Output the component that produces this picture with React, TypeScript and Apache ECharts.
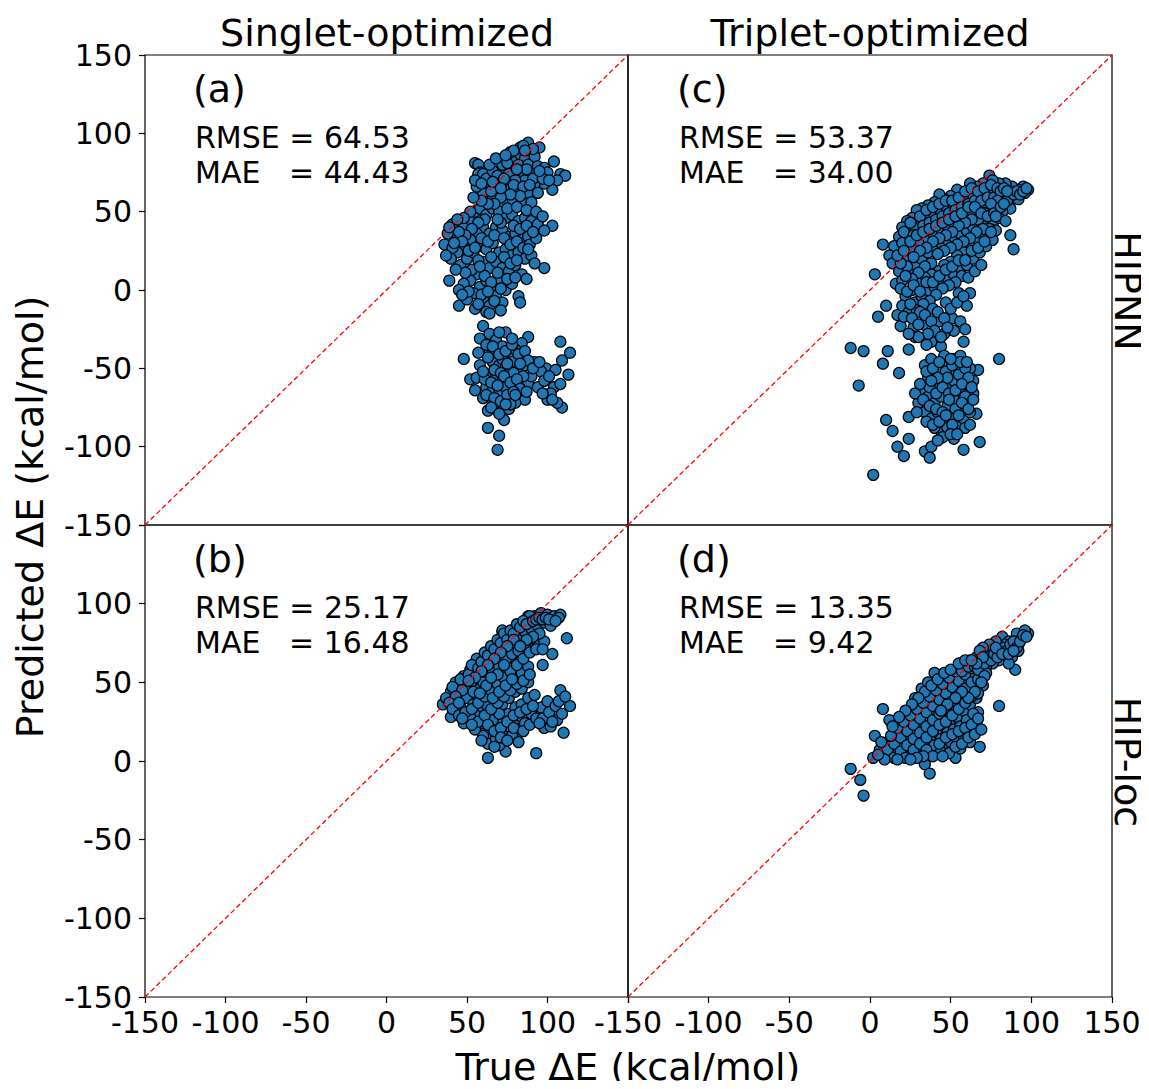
import React, { useEffect, useRef } from "react";
import * as echarts from "echarts";

// Panel (a): HIPNN, singlet-optimized
const dataA: number[][] = [
  [88,94],[95,91],[90,87],[84,88],[80,85],[86,84],[92,85],[78,82],[82,80],[88,80],[94,79],[98,78],[74,78],[70,76],[76,74],[84,76],[90,74],[96,73],[100,75],[104,82],[108,74],[111,73],[106,70],[103,64],[98,68],[92,68],[86,70],[80,70],[74,68],[68,70],[64,72],[62,66],[70,62],[76,64],[82,64],[88,62],[94,62],[78,58],[72,56],[84,56],[66,58],[90,56],[60,62],
  [55,81],[57,80],[58,75],[57,74],[56,66],[60,74],[62,71],[66,76],[72,80],[77,88],[83,91],
  [41,42],[36,29],[43,33],[48,40],[52,45],[55,50],[58,52],[62,48],[66,52],[70,50],[74,46],[78,48],[82,44],[86,46],[90,44],[94,42],[103,41],[98,38],[60,40],[64,36],[68,40],[72,38],[76,34],[80,36],[84,32],[88,34],[56,36],[52,32],[48,28],[44,24],[40,20],[46,16],[50,20],[54,24],[58,28],[62,26],[66,30],[70,24],[74,26],[78,22],[82,24],[86,20],[90,22],[60,18],[64,14],[68,18],[72,14],[76,12],[80,16],[84,10],[56,10],[52,6],[48,4],[39,6],[45,0],[45,-10],[58,2],[62,6],[66,2],[70,6],[74,0],[78,4],[82,-4],[83,-8],[87,7],[98,14],[60,-6],[64,-10],[68,-4],[72,-8],[54,-2],[50,-6],[55,-12],[62,-14],
  [79,89],[85,92],[91,90],[87,77],[81,77],[75,81],[69,73],[73,71],[79,67],[85,66],[91,71],[97,71],[101,70],[95,76],[89,67],[83,60],[77,61],[71,59],[65,63],[67,55],[75,52],[81,53],[87,51],[93,50],[97,47],[63,55],[59,57],[61,45],[57,43],[53,39],[49,35],[45,37],[47,31],[51,25],[55,27],[59,33],[63,31],[67,35],[71,43],[69,45],[73,33],[77,29],[81,31],[85,27],[89,29],[93,33],[79,41],[83,39],[87,41],[91,37],[65,21],[69,11],[73,21],[77,17],[81,19],[57,19],[53,13],[49,11],[43,13],[41,27],[38,36],[61,9],[65,5],[71,1],[75,7],[59,-3],[63,-1],[67,-7],[57,-9],[51,-1],[47,-3],[64,-15],[71,-13],[58,15],[88,26],[92,17],[80,8],[54,59],[52,50],[48,46],[44,45],[39,40],[42,30],[37,22],[55,70],[59,68],[66,69],[71,65],[64,80],[68,84],[74,86],[86,89],
  [60,-23],[58,-31],[74,-27],[64,-28],[68,-32],[48,-44],[52,-57],[88,-30],[84,-34],[108,-33],[114,-40],[109,-45],[113,-54],[109,-75],[100,-70],[104,-62],[99,-50],[105,-51],[92,-46],[96,-52],
  [64,-38],[68,-40],[72,-36],[76,-42],[80,-38],[84,-44],[66,-46],[70,-48],[74,-50],[78,-46],[82,-52],[86,-48],[64,-54],[68,-56],[72,-58],[76,-54],[80,-60],[84,-56],[88,-60],[62,-62],[66,-64],[70,-66],[74,-62],[78,-68],[82,-64],[86,-70],[60,-69],[63,-77],[73,-83],[63,-88],[70,-93],[69,-102],[68,-72],[76,-76],[80,-72],[58,-48],[56,-56],[90,-55],[94,-62],[98,-58],[102,-66],[106,-72],[66,-70],[72,-44],
  [62,-35],[66,-36],[70,-41],[74,-39],[78,-35],[82,-41],[86,-39],[88,-45],[63,-43],[67,-51],[71,-53],[75,-47],[79,-53],[83,-47],[85,-55],[61,-57],[65,-59],[69,-61],[73,-55],[77,-59],[81,-57],[83,-63],[87,-65],[62,-67],[67,-69],[71,-71],[75,-67],[79,-65],[77,-73],[65,-75],[70,-79],[74,-73],[80,-67],[91,-50],[95,-46],[101,-55],[97,-66],[103,-70],[108,-60],[57,-40],[60,-52],[55,-64],[78,-31],[70,-27]
];

// Panel (b): HIP-loc, singlet-optimized
const dataB: number[][] = [
  [35,36],[40,44],[44,48],[48,54],[52,58],[56,62],[60,66],[64,70],[68,74],[72,78],[76,80],[80,84],[84,86],[88,90],[92,92],[96,94],[100,93],[104,92],[108,93],[107,91],
  [45,42],[50,46],[54,50],[58,54],[62,58],[66,62],[70,66],[74,70],[78,74],[82,78],[86,82],[90,84],[94,86],[98,88],[102,86],[72,82],[88,92],[112,78],[103,68],[108,45],[114,35],[110,18],[93,5],[74,6],[63,2],[63,11],[40,28],[48,24],[59,22],[98,21],[99,29],[43,50],[56,65],[72,83],[89,92],[97,61],[83,59],
  [50,40],[54,36],[58,40],[62,44],[66,48],[70,52],[74,56],[78,60],[82,64],[86,68],[90,72],[94,74],[98,76],[56,30],[60,34],[64,38],[68,42],[72,46],[76,50],[80,54],[84,56],[88,60],[60,24],[64,28],[68,32],[72,36],[76,40],[80,44],[84,46],[88,50],[64,18],[68,22],[72,26],[76,30],[80,34],[84,36],[88,40],[92,42],[68,14],[72,18],[76,22],[80,26],[84,28],[66,26],[70,30],[62,36],[58,46],[52,28],[46,34],[42,38],[82,20],[86,24],[90,30],[96,34],[100,38],[104,32],[106,26],[102,22],[78,16],[70,10],[82,12],[60,16],[55,20],[66,56],[60,50],[54,44],[70,60],[74,64],[78,68],[82,70],[86,74],[90,78],
  [37,40],[41,47],[46,52],[51,55],[53,61],[57,59],[59,63],[61,69],[63,67],[65,73],[67,71],[69,77],[71,75],[73,81],[75,77],[77,83],[79,81],[81,87],[83,85],[85,89],[87,87],[91,89],[93,90],[95,91],[97,90],[99,91],[101,90],[105,89],[79,77],[75,73],[71,69],[67,65],[63,61],[59,57],[55,53],[51,51],[47,45],[43,41],[39,37],[41,33],[45,29],[49,31],[53,33],[57,37],[61,41],[65,45],[69,49],[73,53],[77,57],[81,61],[85,65],[89,69],[93,71],[97,71],[95,81],[91,79],[87,77],[83,73],[57,25],[61,29],[65,33],[69,37],[73,41],[77,45],[81,49],[85,51],[89,55],[63,23],[67,19],[71,21],[75,25],[79,29],[83,31],[87,33],[91,35],[67,9],[71,15],[75,13],[79,21],[85,19],[89,23],[93,27],[97,27],[101,31],[105,35],[109,30],[107,38],[111,41],[103,25],[95,24],[59,13],[53,23],[47,27],[45,37],[66,40],[70,44],[74,48],[78,52],[62,48],[58,43],[69,55],[73,61],[65,53]
];

// Panel (c): HIPNN, triplet-optimized
const dataC: number[][] = [
  [74,73],[98,64],[95,66],[92,64],[88,66],[84,68],[80,68],[76,70],[70,68],[66,66],[62,68],[58,62],[54,64],[50,60],[46,58],[43,61],[40,56],[36,54],[32,52],[29,51],[26,46],[23,44],[20,40],[18,34],[15,28],[12,22],[8,29],[3,10],[5,-17],[10,-10],[17,-16],[19,-23],[14,17],
  [20,30],[24,36],[28,40],[32,44],[36,46],[40,48],[44,50],[48,52],[52,54],[56,56],[60,58],[64,60],[68,60],[72,62],[76,62],[80,60],[84,60],[88,58],[92,58],[96,62],[87,52],[89,26],[87,35],[82,50],[78,54],[74,50],[70,52],[66,48],[62,50],[58,46],[54,44],[50,42],[46,40],[42,38],[38,36],[34,32],[30,30],[26,26],[22,20],[18,12],[16,4],[20,6],[24,12],[28,16],[32,20],[36,24],[40,28],[44,30],[48,32],[52,34],[56,36],[60,38],[64,40],[68,42],[72,44],[76,42],[80,46],[84,44],[70,34],[66,30],[62,28],[58,24],[54,22],[50,18],[46,16],[42,12],[38,10],[34,8],[30,4],[26,0],[22,-4],[20,-10],[24,-14],[28,-8],[32,-4],[36,0],[40,2],[44,6],[48,8],[52,10],[56,14],[60,16],[64,20],[68,24],[72,28],[76,32],[78,38],
  [21,37],[25,43],[27,35],[31,47],[33,41],[35,51],[37,43],[39,53],[41,45],[43,55],[45,47],[47,57],[49,49],[51,57],[53,51],[55,59],[57,53],[59,63],[61,55],[63,65],[65,57],[67,63],[69,57],[71,65],[73,59],[75,67],[77,59],[79,65],[81,63],[83,65],[85,57],[87,63],[89,61],[91,63],[93,61],[95,63],[97,65],[85,63],[79,57],[75,55],[71,49],[67,45],[63,45],[59,43],[55,41],[51,37],[47,35],[43,33],[39,31],[35,27],[31,25],[27,21],[23,15],[19,17],[17,22],[21,25],[25,31],[29,35],[33,37],[37,39],[41,41],[45,43],[49,45],[53,47],[57,49],[61,53],[65,53],[69,49],[73,47],[77,49],[81,53],[83,55],[78,47],[74,39],[70,39],[66,37],[62,33],[58,31],[54,29],[50,27],[46,25],[42,23],[38,17],[34,15],[30,11],[26,7],[22,9],[19,1],[23,-1],[27,3],[31,-1],[35,5],[39,5],[43,9],[47,13],[51,15],[55,19],[59,19],[63,25],[67,27],[71,31],[75,37],[57,9],[53,5],[49,3],[45,1],[41,-3],[37,-7],[33,-9],[29,-13],[25,-9],[21,-17],[27,-24],[33,-22],[39,-12],[43,-20],[47,-8],[51,-18],[55,-2],[61,8],[65,12],[69,16],[44,-36],[38,-33],[52,-26],[56,-20],[60,-10],[62,-2],[35,-35],[28,-30],[31,-14],[46,-28],
  [26,-18],[30,-22],[34,-16],[38,-20],[42,-14],[46,-18],[50,-12],[54,-8],[58,-4],[59,-25],[58,-33],[48,-24],[40,-26],[36,-28],[44,-30],[30,-30],[24,-28],
  [-12,-37],[-4,-39],[11,-39],[8,-47],[18,-53],[-7,-61],[80,-44],[67,-51],[24,-38],
  [10,-83],[14,-90],[24,-81],[24,-95],[17,-100],[21,-106],[2,-118],[34,-103],[37,-107],[38,-100],[58,-102],[68,-97],[66,-79],[52,-95],
  [34,-48],[38,-44],[42,-50],[46,-46],[50,-52],[54,-48],[58,-54],[62,-50],[36,-56],[40,-60],[44,-56],[48,-62],[52,-58],[56,-64],[60,-60],[64,-66],[32,-64],[36,-68],[40,-72],[44,-68],[48,-74],[52,-70],[56,-76],[60,-72],[34,-78],[38,-82],[42,-78],[46,-84],[50,-80],[54,-86],[58,-82],[30,-72],[28,-66],[44,-90],[48,-88],[40,-88],[62,-78],[64,-58],[46,-42],[52,-44],[56,-42],
  [35,-52],[39,-50],[43,-46],[47,-52],[51,-48],[55,-54],[59,-50],[61,-56],[37,-62],[41,-66],[45,-62],[49,-66],[53,-64],[57,-60],[59,-68],[63,-62],[33,-70],[37,-74],[41,-76],[45,-78],[49,-70],[53,-76],[57,-72],[61,-76],[35,-84],[39,-86],[43,-84],[47,-80],[51,-86],[55,-80],[59,-88],[45,-94],[50,-92],[42,-96],[31,-60],[29,-78],[62,-86],[54,-92],[56,-46],[50,-44],[60,-46],[48,-56],[42,-56],[64,-70],[38,-58]
];

// Panel (d): HIP-loc, triplet-optimized
const dataD: number[][] = [
  [98,81],[91,81],[96,83],[82,79],[90,58],[80,35],[86,76],[88,72],[92,74],[94,78],[84,74],[80,72],[76,70],[72,68],[78,76],[74,74],[70,72],[66,66],[68,70],[62,64],[64,62],[58,62],[56,60],[60,58],[84,66],[88,66],[80,64],[76,62],[72,60],[74,66],[92,70],[86,62],
  [8,33],[3,16],[-12,-5],[-6,-12],[-4,-22],[2,2],[6,7],[34,-2],[37,-8],[53,2],[68,9],[67,31],
  [10,10],[14,14],[18,18],[22,22],[26,26],[30,30],[34,34],[38,38],[42,42],[46,46],[50,50],[54,54],[12,4],[16,8],[20,12],[24,16],[28,20],[32,24],[36,28],[40,32],[44,36],[48,40],[52,44],[56,48],[60,52],[64,56],[18,24],[22,28],[26,32],[30,36],[34,40],[38,44],[42,48],[46,52],[50,56],[54,58],[20,4],[24,8],[28,12],[32,16],[36,20],[40,24],[44,28],[48,32],[52,36],[56,40],[60,44],[64,48],[26,4],[30,8],[34,12],[38,14],[42,18],[46,22],[50,26],[54,28],[58,32],[62,36],[66,40],[40,10],[44,14],[48,18],[52,20],[56,22],[60,26],[64,30],[46,8],[50,12],[54,14],[58,16],[62,20],[66,24],[44,6],[56,8],[62,12],[28,40],[32,46],[16,18],[12,26],[70,48],[68,54],[72,56],[66,46],[58,50],[62,42],[40,56],[36,50],
  [11,7],[15,11],[19,15],[23,19],[27,23],[31,27],[35,31],[39,35],[43,39],[47,43],[51,47],[55,51],[59,55],[63,59],[13,16],[17,21],[21,25],[25,29],[29,33],[33,37],[37,41],[41,45],[45,49],[49,53],[53,57],[57,57],[15,2],[19,6],[23,10],[27,14],[31,18],[35,22],[39,26],[43,30],[47,34],[51,38],[55,42],[59,46],[63,50],[67,52],[22,2],[27,7],[31,11],[35,15],[39,19],[43,23],[47,25],[51,29],[55,33],[59,37],[63,41],[67,43],[35,7],[39,3],[43,11],[47,15],[51,17],[55,19],[59,21],[63,23],[67,27],[33,3],[49,5],[53,9],[57,11],[61,15],[65,17],[69,20],[45,3],[29,2],[25,1],[17,1],[9,1],[7,12],[5,4],[61,60],[65,60],[67,58],[69,64],[71,62],[73,66],[75,64],[77,68],[79,66],[81,70],[83,72],[85,70],[87,74],[89,76],[91,72],[93,76],[95,80],[97,79],[78,72],[82,68],[86,68],[89,70],[70,66],[66,62],[71,54],[69,50],[65,44],[61,40],[57,44],[53,40],[48,36],[44,32],[34,44],[30,40],[26,36],[22,32],[18,28],[14,22],[38,48],[42,52],[46,56],[50,58],[55,62],[59,64],[63,64]
];

const panelLabels = ["(a)", "(c)", "(b)", "(d)"];
const rmseValues = ["64.53", "53.37", "25.17", "13.35"];
const maeValues = ["44.43", "34.00", "16.48", "9.42"];
const colTitles = ["Singlet-optimized", "Triplet-optimized"];
const rowTitles = ["HIPNN", "HIP-loc"];
const diagonal: number[][] = [[-150, -150], [150, 150]];

const FONT = "DejaVu Sans";

export default function App() {
  const ref = useRef<HTMLDivElement>(null);
  useEffect(() => {
    if (!ref.current) return;
    const chart = echarts.init(ref.current, null, { renderer: "svg" });
    const grids = [
      { left: 145, top: 55, width: 483, height: 470 },
      { left: 628, top: 55, width: 484, height: 470 },
      { left: 145, top: 525, width: 483, height: 472 },
      { left: 628, top: 525, width: 484, height: 472 },
    ];
    const datasets = [dataA, dataC, dataB, dataD];
    const xAxis = grids.map((_, i) => {
      const bottom = i >= 2;
      return {
        type: "value",
        gridIndex: i,
        position: "bottom",
        min: -150,
        max: 150,
        interval: 50,
        axisLine: { show: false, onZero: false },
        splitLine: { show: false },
        axisTick: { show: bottom, length: 6, lineStyle: { color: "#000", width: 1.2 } },
        axisLabel: {
          show: bottom,
          fontFamily: FONT,
          fontSize: 30,
          color: "#000",
          margin: 10,
          formatter: (v: number) => (i === 2 && v === 150 ? "" : String(v)),
        },
      };
    });
    const yAxis = grids.map((_, i) => {
      const left = i % 2 === 0;
      return {
        type: "value",
        gridIndex: i,
        position: "left",
        min: -150,
        max: 150,
        interval: 50,
        axisLine: { show: false, onZero: false },
        splitLine: { show: false },
        axisTick: { show: left, length: 6, lineStyle: { color: "#000", width: 1.2 } },
        axisLabel: {
          show: left,
          fontFamily: FONT,
          fontSize: 30,
          color: "#000",
          margin: 13,
          formatter: (v: number) => (i === 2 && v === 150 ? "" : String(v)),
        },
      };
    });
    const series: any[] = [];
    datasets.forEach((d, i) => {
      series.push({
        type: "scatter",
        xAxisIndex: i,
        yAxisIndex: i,
        data: d,
        symbol: "circle",
        symbolSize: 11,
        itemStyle: { color: "#1f77b4", borderColor: "#000", borderWidth: 1.2, opacity: 1 },
        z: 2,
      });
      series.push({
        type: "line",
        xAxisIndex: i,
        yAxisIndex: i,
        data: diagonal,
        symbol: "none",
        lineStyle: { color: "#ff0000", width: 1.3, type: [5, 3] },
        z: 3,
      });
    });
    const graphic: any[] = [];
    const textPos = [
      [195, 55],
      [679, 55],
      [195, 525],
      [679, 525],
    ];
    textPos.forEach(([x, y], i) => {
      graphic.push({
        type: "text", left: x - 2, top: y + 15,
        style: { text: panelLabels[i], font: `38px ${FONT}`, fill: "#000" },
      });
      graphic.push({
        type: "text", left: x, top: y + 67,
        style: { text: "RMSE = " + rmseValues[i], font: `30px ${FONT}`, fill: "#000" },
      });
      graphic.push({
        type: "text", left: x, top: y + 102,
        style: { text: "MAE", font: `30px ${FONT}`, fill: "#000" },
      });
      graphic.push({
        type: "text", left: x + 94, top: y + 102,
        style: { text: "= " + maeValues[i], font: `30px ${FONT}`, fill: "#000" },
      });
    });
    graphic.push({
      type: "text", x: 387, y: 33,
      style: { text: colTitles[0], font: `38px ${FONT}`, fill: "#000", textAlign: "center", textVerticalAlign: "middle" },
    });
    graphic.push({
      type: "text", x: 870, y: 33,
      style: { text: colTitles[1], font: `38px ${FONT}`, fill: "#000", textAlign: "center", textVerticalAlign: "middle" },
    });
    graphic.push({
      type: "text", x: 1128, y: 291, rotation: -Math.PI / 2,
      style: { text: rowTitles[0], font: `38px ${FONT}`, fill: "#000", textAlign: "center", textVerticalAlign: "middle" },
    });
    graphic.push({
      type: "text", x: 1128, y: 762, rotation: -Math.PI / 2,
      style: { text: rowTitles[1], font: `38px ${FONT}`, fill: "#000", textAlign: "center", textVerticalAlign: "middle" },
    });
    graphic.push({
      type: "text", x: 30, y: 517, rotation: Math.PI / 2,
      style: { text: "Predicted ΔE (kcal/mol)", font: `38px ${FONT}`, fill: "#000", textAlign: "center", textVerticalAlign: "middle" },
    });
    graphic.push({
      type: "text", x: 628, y: 1067,
      style: { text: "True ΔE (kcal/mol)", font: `38px ${FONT}`, fill: "#000", textAlign: "center", textVerticalAlign: "middle" },
    });
    chart.setOption({
      animation: false,
      backgroundColor: "#fff",
      grid: grids.map((g) => ({ ...g, show: true, borderColor: "#000", borderWidth: 1.2, backgroundColor: "transparent" })),
      xAxis,
      yAxis,
      series,
      graphic,
    });
    return () => chart.dispose();
  }, []);
  return <div ref={ref} style={{ width: 1149, height: 1089, margin: -8 }} />;
}
